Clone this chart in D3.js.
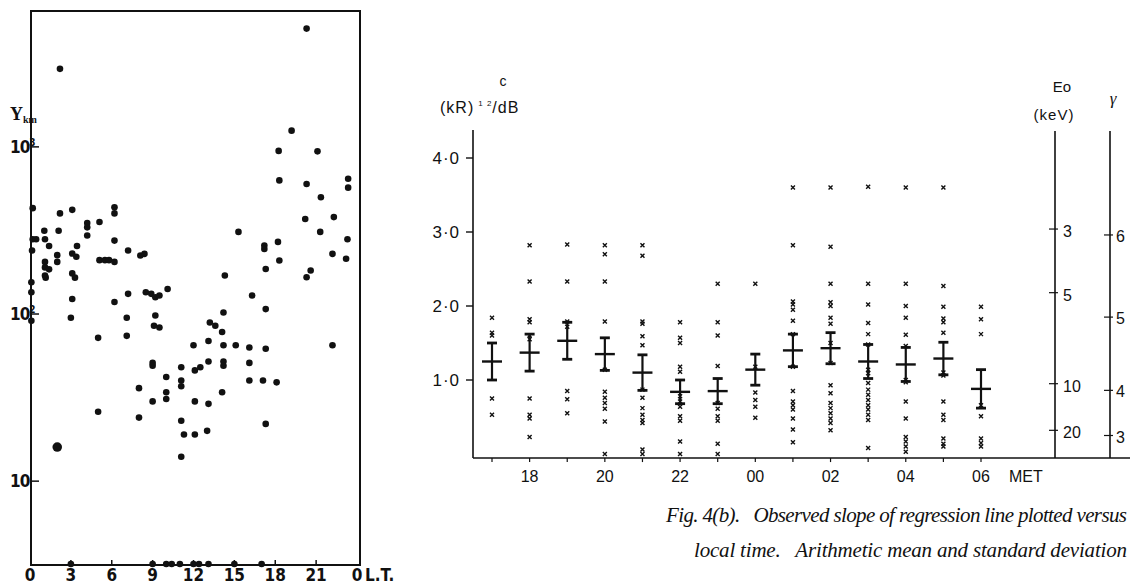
<!DOCTYPE html>
<html>
<head>
<meta charset="utf-8">
<script src="https://cdn.jsdelivr.net/npm/d3@7"></script>
<style>
  body { margin: 0; background: #fff; }
  text { fill: #111; }
</style>
</head>
<body>
<svg id="fig" width="1133" height="587"></svg>
<script>
// ---- left panel: Y per km vs local time (log) ----
const ltHours = [0.2, 0.2, 0.45, 0.15, 0.1, 0.1, 0.1,
  1.05, 1.1, 1.4, 1.1, 1.1, 1.4, 1.1, 1.15,
  2.2, 2.2, 2.1, 2.0, 2.0,
  3.1, 3.45, 3.1, 3.4, 3.1, 3.3, 3.1, 3.0,
  4.2, 4.2, 4.2,
  5.1, 5.1, 5.5, 5.8, 5.0, 5.0,
  6.2, 6.2, 6.2, 6.2, 6.2,
  7.2, 7.2, 7.1, 7.1,
  8.1, 8.4, 8.5, 8.9, 9.2, 9.5, 8.0, 8.0,
  9.2, 9.1, 9.5, 9.0, 9.0, 9.0,
  10.1, 10.0, 10.0, 10.0,
  11.1, 11.1, 11.1, 11.1, 11.3, 11.1,
  12.0, 12.1, 12.5, 12.1, 12.1,
  13.2, 13.6, 13.1, 13.1, 13.1, 13.0,
  14.3, 14.2, 14.1, 14.2, 14.2, 14.2, 14.1,
  15.3, 15.1,
  16.3, 16.1, 16.1, 16.1,
  17.2, 17.2, 17.3, 17.3, 17.3, 17.1, 17.3,
  18.25, 18.3, 18.2, 18.3, 18.1,
  19.2,
  20.3, 20.3, 20.2, 20.3, 20.6,
  21.1, 21.35, 21.3,
  22.3, 22.2, 22.2,
  23.35, 23.35, 23.3, 23.2]
const ltValues = [430, 280, 280, 240, 155, 135, 91,
  315, 280, 255, 205, 190, 185, 170, 165,
  2930, 400, 315, 225, 205,
  420, 255, 230, 220, 175, 165, 123, 95,
  350, 330, 295,
  355, 210, 210, 210, 72, 26,
  435, 400, 275, 205, 118,
  240, 132, 95, 74,
  224, 229, 135, 132, 126, 129, 36, 24,
  98, 85, 83, 51, 49, 30,
  141, 42, 34, 31,
  48, 40, 37, 23, 19, 14,
  65, 46, 48, 30, 19,
  89, 85, 69, 52, 29, 20,
  170, 102, 78, 65, 52, 49, 34,
  310, 65,
  129, 63, 51, 40,
  257, 245, 186, 107, 62, 40, 22,
  946, 630, 270, 209, 39,
  1250,
  5100, 600, 370, 166, 182,
  940, 500, 310,
  380, 229, 65,
  645, 570, 280, 214]
// points drawn on the bottom axis (below the scale)
const baseHours = [3, 9, 10, 10.4, 11, 12, 12.4, 13.1, 15, 17]
const bigHours = [2.0]
const bigValues = [16]
const ltTicks = [0, 3, 6, 9, 12, 15, 18, 21, 24]
const ltTickLabels = ['0', '3', '6', '9', '12', '15', '18', '21', '0']
const logTicks = [10, 100, 1000]
const logTickExp = ['', '2', '3']

// ---- right panel: slope c vs MET ----
const metHours = ['17', '18', '19', '20', '21', '22', '23', '00', '01', '02', '03', '04', '05', '06']
const slopes = [
  [1.84, 1.64, 1.60, 0.75, 0.53],
  [2.82, 2.33, 1.82, 1.78, 1.60, 1.55, 0.75, 0.53, 0.48, 0.23],
  [2.83, 2.33, 1.79, 1.72, 0.85, 0.74, 0.55],
  [2.82, 2.70, 2.33, 1.79, 1.14, 0.84, 0.76, 0.69, 0.61, 0.44, 0.0],
  [2.82, 2.68, 1.79, 1.76, 1.59, 1.47, 0.87, 0.76, 0.62, 0.53, 0.46, 0.42, 0.06, 0.0],
  [1.78, 1.57, 1.50, 1.18, 1.11, 0.78, 0.71, 0.64, 0.51, 0.45, 0.17, 0.0],
  [2.30, 1.78, 1.60, 1.19, 0.69, 0.61, 0.51, 0.45, 0.14, 0.0],
  [2.30, 1.18, 0.83, 0.73, 0.64, 0.49],
  [3.60, 2.82, 2.06, 2.02, 1.95, 1.80, 1.62, 1.18, 0.85, 0.71, 0.66, 0.60, 0.48, 0.33, 0.16],
  [3.60, 2.80, 2.30, 2.05, 2.00, 1.84, 1.76, 1.50, 1.23, 0.93, 0.82, 0.69, 0.62, 0.55, 0.48, 0.42, 0.32],
  [3.61, 2.30, 2.02, 1.77, 1.62, 1.48, 1.14, 1.09, 0.96, 0.87, 0.80, 0.73, 0.66, 0.60, 0.53, 0.46, 0.08],
  [3.60, 2.30, 2.00, 1.84, 1.61, 1.46, 1.00, 0.97, 0.71, 0.48, 0.23, 0.17, 0.10, 0.03],
  [3.60, 2.27, 1.99, 1.83, 1.78, 1.64, 1.10, 1.06, 0.71, 0.53, 0.46, 0.21, 0.14, 0.10],
  [1.99, 1.82, 1.62, 0.66, 0.51, 0.21, 0.15, 0.10]
]
const means = [1.25, 1.37, 1.53, 1.35, 1.10, 0.84, 0.85, 1.14, 1.40, 1.43, 1.25, 1.21, 1.29, 0.88]
const sds = [0.25, 0.25, 0.25, 0.22, 0.24, 0.16, 0.17, 0.21, 0.22, 0.21, 0.23, 0.23, 0.22, 0.26]
const cTicks = [1, 2, 3, 4]
const metLabels = ['18', '20', '22', '00', '02', '04', '06']
const eoLabels = ['3', '5', '10', '20']
const eoAtC = [3.04, 2.18, 0.95, 0.32]
const gammaLabels = ['6', '5', '4', '3']
const gammaAtC = [2.96, 1.85, 0.86, 0.25]

const svg = d3.select('#fig')

// ================= left panel =================
const xL = d3.scaleLinear().domain([0, 24]).range([30, 357])
const yL = d3.scaleLog().domain([3.15, 6500]).range([565, 11])
const left = svg.append('g').attr('class', 'leftPanel')
const narrow = '"Liberation Sans Narrow", "DejaVu Sans Condensed", sans-serif'

left.append('rect')
  .attr('x', xL(0) + 1).attr('y', yL(6500))
  .attr('width', xL(24) - xL(0) + 2).attr('height', yL(3.15) - yL(6500))
  .attr('fill', 'none').attr('stroke', '#111').attr('stroke-width', 2)

// bottom ticks (pointing up)
left.selectAll('.xt').data(ltTicks.slice(1, -1)).join('line')
  .attr('x1', d => xL(d)).attr('x2', d => xL(d))
  .attr('y1', yL(3.15)).attr('y2', yL(3.15) - 5)
  .attr('stroke', '#111').attr('stroke-width', 1.5)

left.selectAll('.xl').data(ltTicks).join('text')
  .attr('x', d => xL(d)).attr('y', 581)
  .attr('text-anchor', 'middle')
  .style('font', 'bold 17px ' + narrow)
  .text((d, i) => ltTickLabels[i])

left.append('text').attr('x', 365).attr('y', 581)
  .style('font', 'bold 17px ' + narrow)
  .text('L.T.')

// log ticks (pointing in)
left.selectAll('.yt').data(logTicks).join('line')
  .attr('x1', xL(0) + 1).attr('x2', xL(0) + 9)
  .attr('y1', d => yL(d)).attr('y2', d => yL(d))
  .attr('stroke', '#111').attr('stroke-width', 1.5)

const yLab = left.selectAll('.yl').data(logTicks).join('text')
  .attr('x', 10).attr('y', d => yL(d) + 6)
  .style('font', 'bold 17px ' + narrow)
  .style('letter-spacing', '-1px')
yLab.append('tspan').text('10')
yLab.append('tspan').attr('dy', -7).style('font-size', '10px').text((d, i) => logTickExp[i])

const yTitle = left.append('text').attr('x', 10).attr('y', 120)
  .style('font', 'bold 18px "Liberation Serif", serif')
yTitle.append('tspan').text('Y')
yTitle.append('tspan').attr('dy', 3).style('font-size', '10px').text('km')

left.selectAll('.dot').data(ltHours).join('circle')
  .attr('cx', d => xL(d))
  .attr('cy', (d, i) => yL(ltValues[i]))
  .attr('r', 3.3).attr('fill', '#111')

left.selectAll('.big').data(bigHours).join('circle')
  .attr('cx', d => xL(d))
  .attr('cy', (d, i) => yL(bigValues[i]))
  .attr('r', 4.8).attr('fill', '#111')

left.selectAll('.base').data(baseHours).join('circle')
  .attr('cx', d => xL(d)).attr('cy', yL(3.15) - 1)
  .attr('r', 3.3).attr('fill', '#111')

// ================= right panel =================
const xR = d3.scalePoint().domain(metHours).range([492, 981])
const yR = d3.scaleLinear().domain([0, 4]).range([454, 158])
const right = svg.append('g').attr('class', 'rightPanel')
const sans = '"Liberation Sans", Arial, sans-serif'
const yTop = yR(4.38), yBot = yR(-0.055)

// axes lines
right.append('line').attr('x1', 473).attr('x2', 473).attr('y1', yTop).attr('y2', yBot)
  .attr('stroke', '#111').attr('stroke-width', 1.6)
right.append('line').attr('x1', 473).attr('x2', 1130).attr('y1', yBot).attr('y2', yBot)
  .attr('stroke', '#111').attr('stroke-width', 1.6)

right.selectAll('.ct').data(cTicks).join('line')
  .attr('x1', 466).attr('x2', 473)
  .attr('y1', d => yR(d)).attr('y2', d => yR(d))
  .attr('stroke', '#111').attr('stroke-width', 1.4)
right.selectAll('.cl').data(cTicks).join('text')
  .attr('x', 460).attr('y', d => yR(d) + 6)
  .attr('text-anchor', 'end')
  .style('font', '17px ' + sans).style('letter-spacing', '1px')
  .text(d => d + '·0')

right.selectAll('.mt').data(metHours).join('line')
  .attr('x1', d => xR(d)).attr('x2', d => xR(d))
  .attr('y1', yBot).attr('y2', yBot + 4)
  .attr('stroke', '#111').attr('stroke-width', 1.2)
right.selectAll('.ml').data(metLabels).join('text')
  .attr('x', d => xR(d)).attr('y', 482)
  .attr('text-anchor', 'middle')
  .style('font', '16px ' + sans)
  .text(d => d)
right.append('text').attr('x', xR('06') + 28).attr('y', 482)
  .style('font', '16px ' + sans).text('MET')

right.append('text').attr('x', 503).attr('y', 86).attr('text-anchor', 'middle')
  .style('font', '14px ' + sans).text('c')
const unit = right.append('text').attr('x', 440).attr('y', 113)
  .style('font', '16px ' + sans).style('letter-spacing', '1px')
unit.append('tspan').text('(kR)')
unit.append('tspan').attr('dx', 4).attr('dy', -7).style('font-size', '8px').text('1 2')
unit.append('tspan').attr('dy', 7).text('/dB')

// Eo and gamma axes
const eoX = 1055, gX = 1110
right.append('line').attr('x1', eoX).attr('x2', eoX).attr('y1', 131).attr('y2', yBot)
  .attr('stroke', '#111').attr('stroke-width', 1.6)
right.append('line').attr('x1', gX).attr('x2', gX).attr('y1', 131).attr('y2', yBot)
  .attr('stroke', '#111').attr('stroke-width', 1.6)
right.selectAll('.et').data(eoAtC).join('line')
  .attr('x1', eoX - 6).attr('x2', eoX + 3)
  .attr('y1', d => yR(d)).attr('y2', d => yR(d))
  .attr('stroke', '#111').attr('stroke-width', 1.2)
right.selectAll('.el').data(eoAtC).join('text')
  .attr('x', eoX + 8).attr('y', d => yR(d) + 8)
  .style('font', '16px ' + sans)
  .text((d, i) => eoLabels[i])
right.selectAll('.gt').data(gammaAtC).join('line')
  .attr('x1', gX - 6).attr('x2', gX + 3)
  .attr('y1', d => yR(d)).attr('y2', d => yR(d))
  .attr('stroke', '#111').attr('stroke-width', 1.2)
right.selectAll('.gl').data(gammaAtC).join('text')
  .attr('x', gX + 6).attr('y', d => yR(d) + 7)
  .style('font', '16px ' + sans)
  .text((d, i) => gammaLabels[i])

right.append('text').attr('x', 1062).attr('y', 92).attr('text-anchor', 'middle')
  .style('font', '15px ' + sans).text('Eo')
right.append('text').attr('x', 1054).attr('y', 120).attr('text-anchor', 'middle')
  .style('font', '15px ' + sans).style('letter-spacing', '1px').text('(keV)')
right.append('text').attr('x', 1113).attr('y', 104).attr('text-anchor', 'middle')
  .style('font', 'italic 17px "Liberation Serif", serif').text('γ')

// crosses
const groups = right.selectAll('.grp').data(metHours).join('g')
  .attr('transform', d => `translate(${xR(d)},0)`)
groups.selectAll('path').data((d, i) => slopes[i]).join('path')
  .attr('d', v => {
    const y = yR(v), s = 2
    return `M${-s},${y - s}L${s},${y + s}M${-s},${y + s}L${s},${y - s}`
  })
  .attr('stroke', '#111').attr('stroke-width', 1.4).attr('fill', 'none')

// mean and standard deviation
groups.append('line')
  .attr('x1', 0).attr('x2', 0)
  .attr('y1', (d, i) => yR(means[i] + sds[i])).attr('y2', (d, i) => yR(means[i] - sds[i]))
  .attr('stroke', '#111').attr('stroke-width', 2.2)
groups.append('line')
  .attr('x1', -5).attr('x2', 5)
  .attr('y1', (d, i) => yR(means[i] + sds[i])).attr('y2', (d, i) => yR(means[i] + sds[i]))
  .attr('stroke', '#111').attr('stroke-width', 2.8)
groups.append('line')
  .attr('x1', -5).attr('x2', 5)
  .attr('y1', (d, i) => yR(means[i] - sds[i])).attr('y2', (d, i) => yR(means[i] - sds[i]))
  .attr('stroke', '#111').attr('stroke-width', 2.8)
groups.append('line')
  .attr('x1', -10).attr('x2', 10)
  .attr('y1', (d, i) => yR(means[i])).attr('y2', (d, i) => yR(means[i]))
  .attr('stroke', '#111').attr('stroke-width', 2.4)

// caption
const serif = 'italic 21px "Liberation Serif", "DejaVu Serif", serif'
svg.append('text').attr('x', 666).attr('y', 522)
  .attr('textLength', 461).attr('lengthAdjust', 'spacing')
  .style('font', serif).style('white-space', 'pre')
  .text('Fig. 4(b).   Observed slope of regression line plotted versus')
svg.append('text').attr('x', 694).attr('y', 557)
  .attr('textLength', 433).attr('lengthAdjust', 'spacing')
  .style('font', serif).style('white-space', 'pre')
  .text('local time.   Arithmetic mean and standard deviation')
</script>
</body>
</html>
